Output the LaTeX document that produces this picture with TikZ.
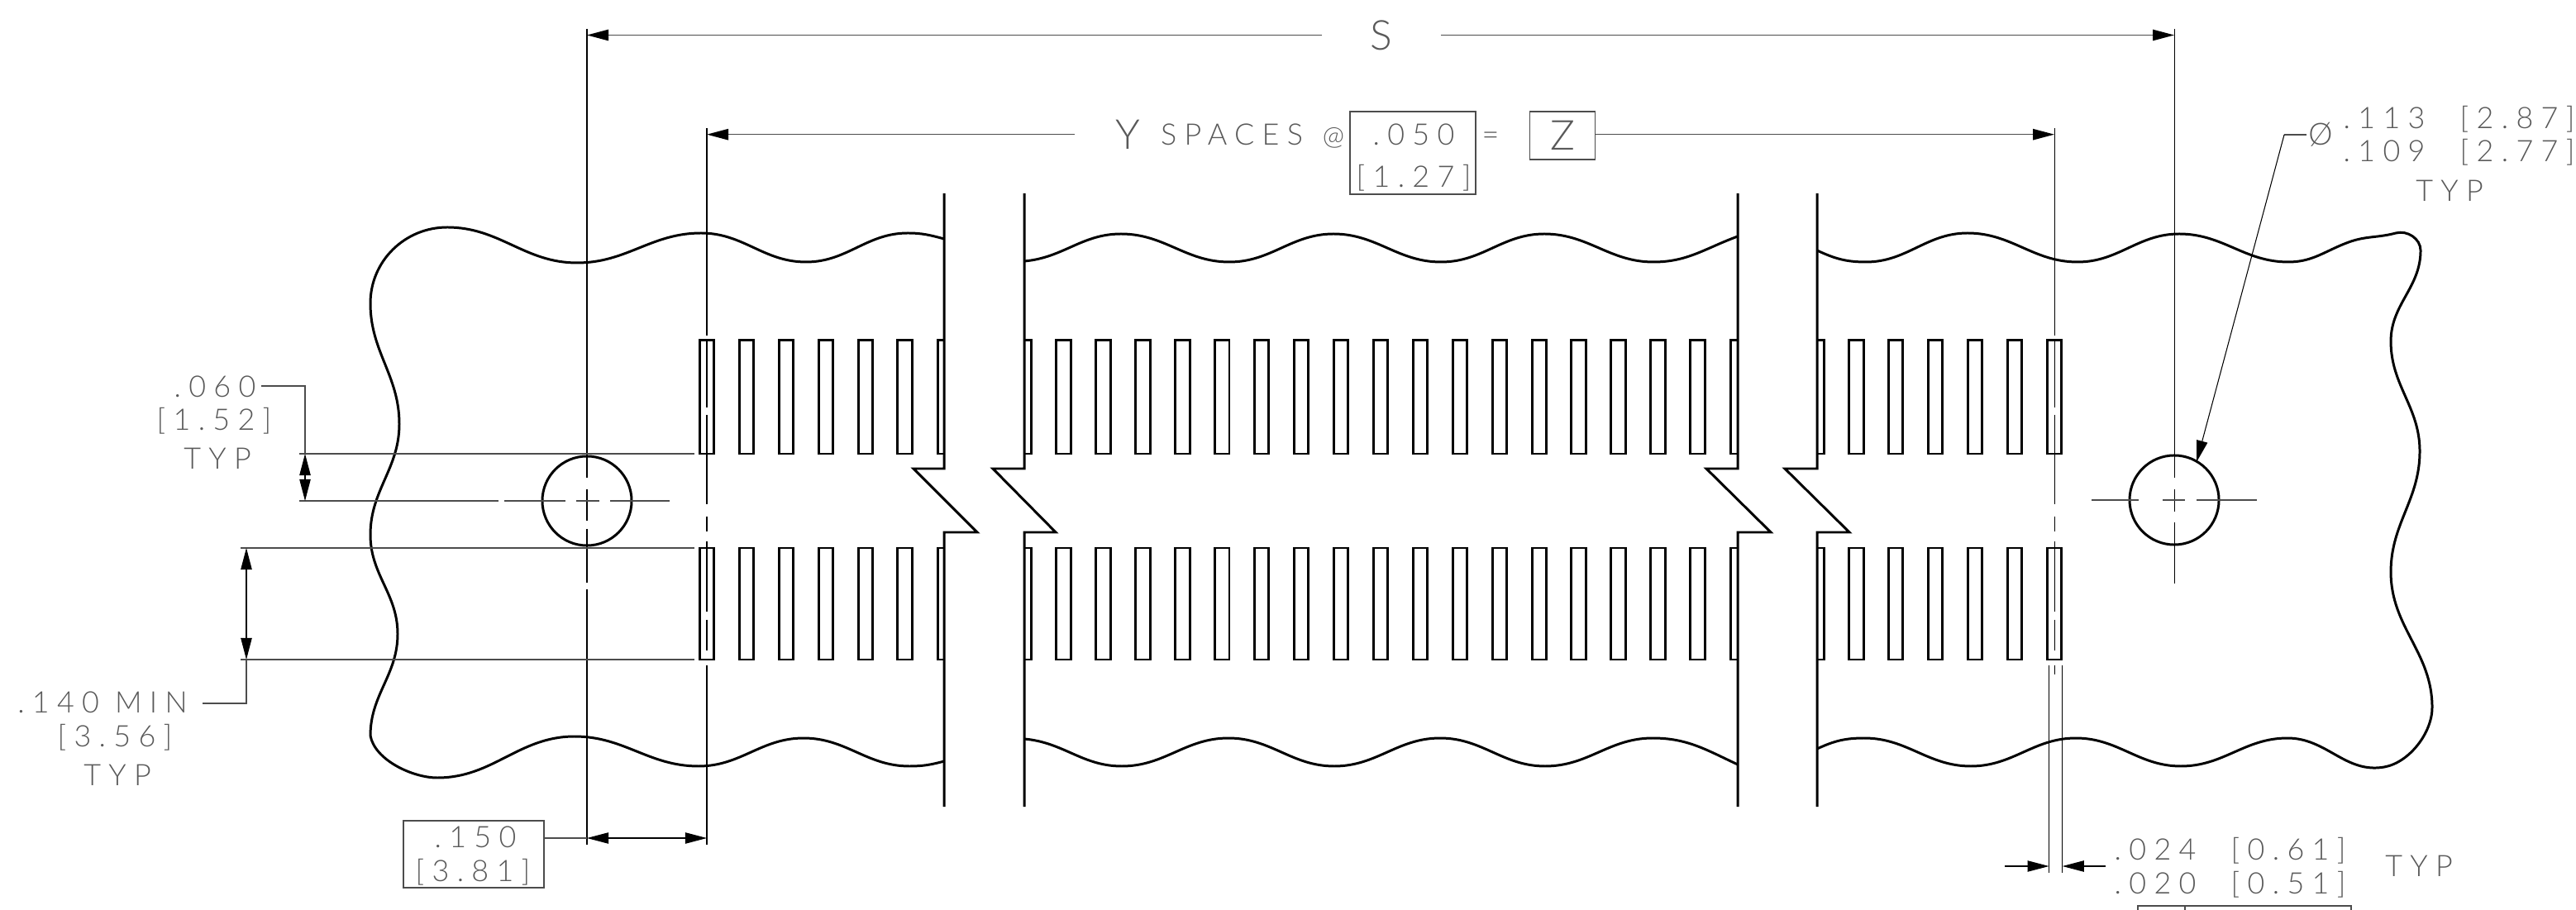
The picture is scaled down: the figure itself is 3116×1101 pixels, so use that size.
\documentclass[tikz,border=0pt]{standalone}
\usepackage{fontspec}
\usetikzlibrary{arrows.meta,positioning}
\newfontfamily\cadsmall[LetterSpace=26]{Lato Light}
\newfontfamily\cadbig[LetterSpace=8]{Lato Light}

\tikzset{
    outline/.style={line width=0.85pt, black},
    slotline/.style={line width=0.85pt, black},
    thinline/.style={line width=0.3pt, black},
    dimline/.style={line width=0.42pt, black!70},
    dimtip/.style={{Triangle[length=7.4pt,width=3.8pt,black]}-{Triangle[length=7.4pt,width=3.8pt,black]}},
    endtip/.style={-{Triangle[length=7.4pt,width=3.8pt,black]}},
    cadtext/.style={inner sep=0pt, text height=0.25cm, text depth=0pt, black!65, font=\fontsize{10.2pt}{12pt}\cadsmall},
    cadlarge/.style={inner sep=0pt, text height=0.36cm, text depth=0pt, black!65, font=\fontsize{14.2pt}{16pt}\cadbig},
    boxed/.style={draw=black!70, line width=0.42pt, inner sep=0pt},
    wr/.style={out=0, in=180},
    wl/.style={out=180, in=0},
    wd/.style={out=-90, in=90}
}

\begin{document}
\begin{tikzpicture}[x=0.01cm, y=-0.01cm]
    \useasboundingbox (0,0) rectangle (3116,1101);

    % Board outline, three torn pieces
    \draw[outline] (1142,289) to[out=165, in=0] (1098,282) to[wl] (975,317) to[wl] (848,282) to[wl] (698,318)
        to[wl] (541,275) to[out=180, in=90] (448,367) to[wd] (483,513) to[wd] (448,647) to[wd] (481,767)
        to[wd] (448,890) to[out=-80, in=180, looseness=0.8] (529,941) to[wr] (695,891) to[wr] (845,927) to[wr] (972,893)
        to[wr] (1100,927) to[out=0, in=195] (1142,921);
    \draw[outline] (1239,316) to[out=5, in=180] (1356,283) to[wr] (1487,317) to[wr] (1613,283) to[wr] (1743,317)
        to[wr] (1868,283) to[wr] (2000,317) to[out=0, in=200] (2102,286);
    \draw[outline] (1239,894) to[out=-5, in=180] (1357,927) to[wr] (1486,893) to[wr] (1614,927) to[wr] (1742,893)
        to[wr] (1869,927) to[wr] (1999,893) to[out=0, in=155] (2102,925);
    \draw[outline] (2198,303) to[out=-25, in=180] (2257,317) to[wr] (2380,282) to[wr] (2513,317) to[wr] (2636,283)
        to[wr] (2768,317) to[out=0, in=200] (2841,293) to[out=20, in=195] (2898,282) to[out=15, in=90] (2928,303)
        to[wd] (2892,413) to[wd] (2927,546) to[wd] (2892,692) to[wd] (2942,856) to[out=-90, in=10, looseness=0.85] (2884,928)
        to[out=190, in=0] (2767,893) to[wl] (2638,927) to[wl] (2511,893) to[wl] (2384,927) to[wl] (2255,893) to[out=180, in=25] (2198,906);

    % Break lines
    \draw[outline] (1142,234) -- (1142,567) -- (1105,567) -- (1182,644) -- (1142,644) -- (1142,976);
    \draw[outline] (1239,234) -- (1239,567) -- (1201,567) -- (1277,644) -- (1239,644) -- (1239,976);
    \draw[outline] (2102,234) -- (2102,567) -- (2064,567) -- (2142,644) -- (2102,644) -- (2102,976);
    \draw[outline] (2198,234) -- (2198,567) -- (2159,567) -- (2237,644) -- (2198,644) -- (2198,976);

    % Slots, upper and lower row
    \foreach \ya/\yb in {412/549, 663/798} {
        \foreach \k in {0,...,5,9,10,...,25,29,30,...,34} {
            \pgfmathsetmacro\cx{855+47.94*\k}
            \draw[slotline] (\cx-8.75,\ya) rectangle (\cx+8.75,\yb);
        }
        % Slots cut by the break lines
        \draw[slotline] (1142,\ya) -- (1134,\ya) -- (1134,\yb) -- (1142,\yb);
        \draw[slotline] (1239,\ya) -- (1247,\ya) -- (1247,\yb) -- (1239,\yb);
        \draw[slotline] (2102,\ya) -- (2093,\ya) -- (2093,\yb) -- (2102,\yb);
        \draw[slotline] (2198,\ya) -- (2206,\ya) -- (2206,\yb) -- (2198,\yb);
    }

    % Mounting holes
    \node[circle, draw, outline, minimum size=1.08cm, inner sep=0pt] (holeL) at (710,606) {};
    \node[circle, draw, outline, minimum size=1.08cm, inner sep=0pt] (holeR) at (2630,605) {};

    % Center lines
    \foreach \a/\b in {35/578, 592/630, 640/705, 713/1022} \draw[thinline] (710,\a) -- (710,\b);
    \foreach \a/\b in {35/578, 592/619, 632/706} \draw[thinline] (2630,\a) -- (2630,\b);
    \foreach \a/\b in {155/406, 413/493, 502/610, 625/643, 655/740, 750/787, 805/1022} \draw[thinline] (855,\a) -- (855,\b);
    \foreach \a/\b in {155/406, 413/493, 502/610, 625/643, 655/740, 750/787, 805/816} \draw[thinline] (2485,\a) -- (2485,\b);
    \foreach \a/\b in {362/603, 610/684, 697/725, 738/810} \draw[dimline] (\a,606) -- (\b,606);
    \foreach \a/\b in {2530/2587, 2616/2643, 2657/2730} \draw[dimline] (\a,605) -- (\b,605);

    % Witness lines
    \draw[dimline] (362,549) -- (840,549);
    \draw[dimline] (291,663) -- (840,663);
    \draw[dimline] (291,798) -- (840,798);
    \draw[thinline] (2478.5,805) -- (2478.5,1056);
    \draw[thinline] (2494.7,805) -- (2494.7,1056);

    % Dimension S
    \coordinate (Sleft) at (710,42.5);
    \coordinate (Sright) at (2630,42.5);
    \node[cadlarge, minimum width=1.42cm] (Slabel) at (1671,42.5) {S};
    \draw[dimline, endtip] (Slabel.west) -- (Sleft);
    \draw[dimline, endtip] (Slabel.east) -- (Sright);

    % Dimension Y spaces
    \coordinate (Yleft) at (855,162.7);
    \coordinate (Yright) at (2485,162.7);
    \node[cadlarge] (Ylabel) at (1364,162.7) {Y};
    \node[cadtext] (spaces) at (1490,162.7) {SPACES};
    \node[cadtext, font=\fontsize{9pt}{10pt}\cadbig] (atsign) at (1613,162.7) {@};
    \node[boxed, minimum width=1.52cm, minimum height=1cm] (pitchbox) at (1709,185) {};
    \node[cadtext] (pitchin) at (1710,163) {.050};
    \node[cadtext] (pitchmm) at (1710,214) {[1.27]};
    \node[cadtext] (equals) at (1803,162.7) {=};
    \node[boxed, cadlarge, draw=black!70, minimum width=0.785cm, minimum height=0.58cm] (Zbox) at (1890,164) {Z};
    \coordinate (Yline) at (1300,162.7);
    \draw[dimline, endtip] (Yline) -- (Yleft);
    \draw[dimline, endtip] (Zbox.east |- Yright) -- (Yright);

    % Dimension .060
    \node[cadtext] (tin) at (260,468) {.060};
    \node[cadtext] (tmm) at (259,508) {[1.52]};
    \node[cadtext] (ttyp) at (263,555) {TYP};
    \coordinate (tlead) at (369,467);
    \coordinate (ttop) at (369,549);
    \coordinate (tbot) at (369,606);
    \draw[dimline] (316,467) -- (tlead) -- (ttop);
    \draw[thinline, dimtip] (ttop) -- (tbot);

    % Dimension .140
    \node[cadtext] (min) at (124,850) {.140 MIN};
    \node[cadtext] (minmm) at (139,891) {[3.56]};
    \node[cadtext] (mintyp) at (142,938) {TYP};
    \coordinate (mintop) at (298,663);
    \coordinate (minbot) at (298,798);
    \draw[thinline, dimtip] (mintop) -- (minbot);
    \draw[dimline] (minbot) -- (298,851) -- (245,851);

    % Dimension .150
    \node[boxed, minimum width=1.695cm, minimum height=0.81cm] (offsetbox) at (573,1033.5) {};
    \node[cadtext] (offin) at (575,1013) {.150};
    \node[cadtext] (offmm) at (572,1054) {[3.81]};
    \coordinate (offL) at (710,1014);
    \coordinate (offR) at (855,1014);
    \draw[dimline] (offsetbox.east |- offL) -- (offL);
    \draw[thinline, dimtip] (offL) -- (offR);

    % Hole diameter
    \node[cadtext, font=\fontsize{10.5pt}{12pt}\cadsmall] (dia) at (2807,163) {Ø};
    \node[cadtext] (diaA) at (2884,143) {.113};
    \node[cadtext] (diaB) at (3045,143) {[2.87]};
    \node[cadtext] (diaC) at (2884,183) {.109};
    \node[cadtext] (diaD) at (3045,183) {[2.77]};
    \node[cadtext] (diaT) at (2963,231) {TYP};
    \coordinate (diatip) at (2657,559);
    \draw[dimline] (2790,163) -- (2763,163);
    \draw[thinline, endtip] (2763,163) -- (diatip);

    % Slot width
    \coordinate (wL) at (2478.5,1048);
    \coordinate (wR) at (2494.7,1048);
    \draw[thinline, endtip] (2425,1048) -- (wL);
    \draw[thinline, endtip] (2547,1048) -- (wR);
    \node[cadtext] (wA) at (2607,1028) {.024};
    \node[cadtext] (wB) at (2768,1028) {[0.61]};
    \node[cadtext] (wC) at (2607,1069) {.020};
    \node[cadtext] (wD) at (2768,1069) {[0.51]};
    \node[cadtext] (wT) at (2926,1048) {TYP};

    % Frame cut off by the page edge
    \draw[dimline] (2586,1101) -- (2586,1096) -- (2844,1096) -- (2844,1101);
    \draw[dimline] (2643,1096) -- (2643,1101);
\end{tikzpicture}
\end{document}
